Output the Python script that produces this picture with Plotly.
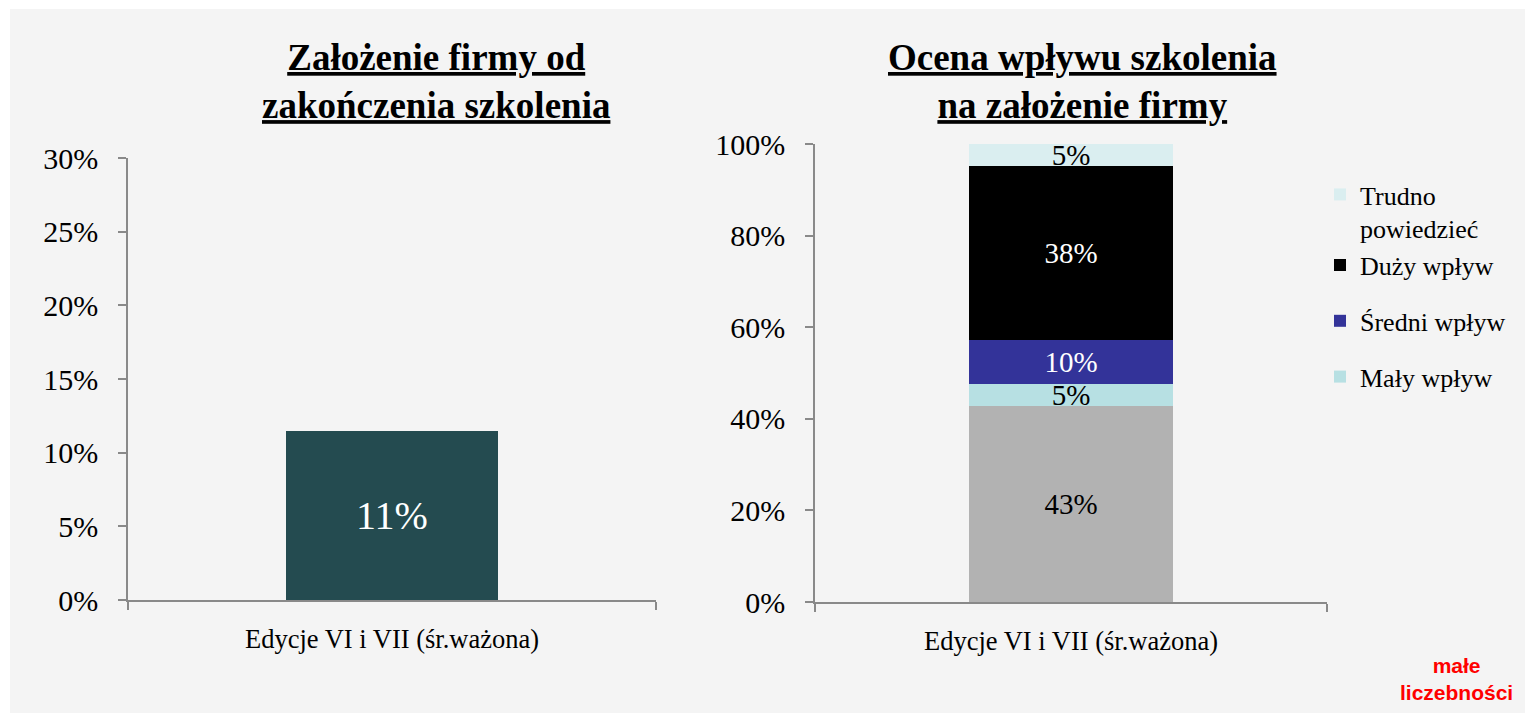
import plotly.graph_objects as go

W, H = 1533, 713
OFF = 8  # page body margin in the browser

# ---------------- data ----------------
categories = ["Edycje VI i VII (śr.ważona)"]
left_values = [0.1145]          # Założenie firmy od zakończenia szkolenia
left_title = "Założenie firmy od<br>zakończenia szkolenia"

right_title = "Ocena wpływu szkolenia<br>na założenie firmy"
series_names = ["Brak wpływu", "Mały wpływ", "Średni wpływ", "Duży wpływ", "Trudno powiedzieć"]
series_legend = ["", "Mały wpływ", "Średni wpływ", "Duży wpływ", "Trudno<br>powiedzieć"]
series_values = [9/21, 1/21, 2/21, 8/21, 1/21]
series_colors = ["#b2b2b2", "#b7e0e3", "#333399", "#000000", "#daeef0"]
series_textcolors = ["#000000", "#000000", "#ffffff", "#ffffff", "#000000"]
series_groups = ["z", "c", "b", "a", "a"]
series_rank = [5, 4, 3, 2, 1]

left_ticks = [0, 0.05, 0.10, 0.15, 0.20, 0.25, 0.30]
right_ticks = [0, 0.2, 0.4, 0.6, 0.8, 1.0]

SERIF = "Liberation Serif, Times New Roman, serif"
AXC = "#898989"

def px_x(p):
    return (p - OFF) / W

def px_y(p):
    return 1 - (p - OFF) / H

fig = go.Figure()

fig.add_trace(go.Bar(
    x=categories, y=left_values, xaxis="x", yaxis="y",
    marker=dict(color="#244b50", line=dict(width=0)),
    width=0.4, texttemplate="%{y:.0%}", textposition="inside",
    insidetextanchor="middle", textangle=0, constraintext="none",
    textfont=dict(family=SERIF, size=40, color="white"),
    showlegend=False, hoverinfo="skip",
))

for name, lg, v, c, tc, g, rk in zip(series_names, series_legend, series_values,
                                     series_colors, series_textcolors, series_groups,
                                     series_rank):
    fig.add_trace(go.Bar(
        x=categories, y=[v], xaxis="x2", yaxis="y2", name=lg,
        marker=dict(color=c, line=dict(width=0)),
        width=0.4, texttemplate="%{y:.0%}", textposition="inside",
        insidetextanchor="middle", textangle=0, constraintext="none",
        textfont=dict(family=SERIF, size=29, color=tc),
        showlegend=(g != "z"), legendgroup=g, legendrank=rk, hoverinfo="skip",
    ))

axis_common = dict(showline=True, linecolor=AXC, linewidth=1.5, ticks="outside",
                   tickcolor=AXC, tickwidth=1.5, ticklen=8, showgrid=False,
                   zeroline=False, fixedrange=True, automargin=False)

fig.update_layout(
    width=W, height=H,
    margin=dict(l=0, r=0, t=0, b=0, autoexpand=False),
    paper_bgcolor="white", plot_bgcolor="rgba(0,0,0,0)",
    barmode="stack",
    font=dict(family=SERIF, color="black"),
    xaxis=dict(domain=[px_x(128), px_x(656)], anchor="y", tickson="boundaries",
               tickfont=dict(size=26.5), ticklabelstandoff=14, **axis_common),
    yaxis=dict(domain=[px_y(600), px_y(158)], anchor="x", range=[0, 0.30],
               tickvals=left_ticks, tickformat=".0%", tickfont=dict(size=30),
               ticklabelstandoff=14, **axis_common),
    xaxis2=dict(domain=[px_x(815), px_x(1327)], anchor="y2", tickson="boundaries",
                tickfont=dict(size=26.5), ticklabelstandoff=14, **axis_common),
    yaxis2=dict(domain=[px_y(602), px_y(144)], anchor="x2", range=[0, 1.0],
                tickvals=right_ticks, tickformat=".0%", tickfont=dict(size=30),
                ticklabelstandoff=14, **axis_common),
    legend=dict(x=px_x(1320), y=px_y(171), xanchor="left", yanchor="top",
                traceorder="grouped", tracegroupgap=19, valign="top",
                font=dict(family=SERIF, size=26), bgcolor="rgba(0,0,0,0)"),
    shapes=[dict(type="rect", xref="paper", yref="paper", x0=px_x(10), x1=1,
                 y0=0, y1=px_y(9), fillcolor="#f4f4f4", line=dict(width=0),
                 layer="below")],
    annotations=[
        dict(text="<b><u>" + left_title + "</u></b>", xref="paper", yref="paper",
             x=px_x(436), y=px_y(81), xanchor="center", yanchor="middle",
             showarrow=False, font=dict(family=SERIF, size=37, color="black")),
        dict(text="<b><u>" + right_title + "</u></b>", xref="paper", yref="paper",
             x=px_x(1082), y=px_y(81), xanchor="center", yanchor="middle",
             showarrow=False, font=dict(family=SERIF, size=37, color="black")),
        dict(text="<b>małe<br>liczebności</b>", xref="paper", yref="paper",
             x=px_x(1456), y=px_y(679), xanchor="center", yanchor="middle",
             showarrow=False,
             font=dict(family="Liberation Sans, Arial, sans-serif", size=21, color="red")),
    ],
)

fig.write_html("out.html")
